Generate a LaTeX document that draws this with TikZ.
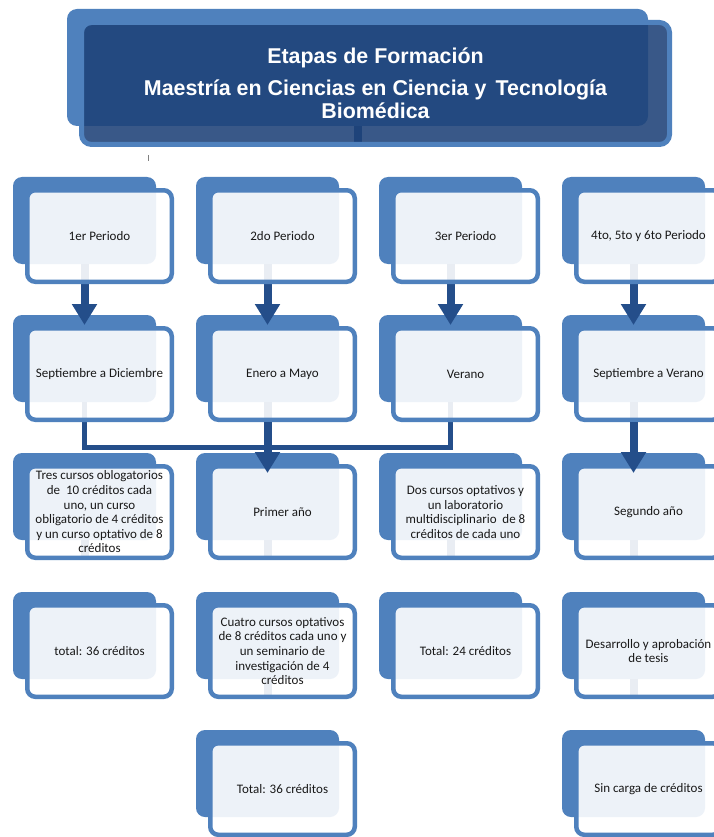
\documentclass[tikz,border=0pt]{standalone}
\usepackage{fontspec}
\setmainfont{Carlito}
\newfontfamily\titlefont{Liberation Sans}
\usetikzlibrary{arrows.meta,calc}
\definecolor{cardblue}{RGB}{79,129,189}
\definecolor{arrowblue}{RGB}{36,78,138}
\definecolor{navy}{RGB}{30,66,120}
\definecolor{txt}{RGB}{25,25,25}
\pgfdeclarelayer{bgl}
\pgfdeclarelayer{backl}
\pgfdeclarelayer{midl}
\pgfsetlayers{bgl,backl,midl,main}
\tikzset{
  backcard/.style={rectangle, rounded corners=9pt, fill=cardblue, minimum width=143pt, minimum height=87pt, inner sep=0pt, outer sep=0pt},
  frontcard/.style={rectangle, rounded corners=8pt, draw=cardblue, line width=4.5pt, fill=white, fill opacity=0.9, text opacity=1, minimum width=144.5pt, minimum height=91.5pt, inner sep=0pt, outer sep=0pt, align=center, font=\fontsize{13}{14.6}\selectfont, text=txt},
  titleback/.style={rectangle, rounded corners=10pt, fill=cardblue, minimum width=581pt, minimum height=117pt, inner sep=0pt, outer sep=0pt},
  titlefront/.style={rectangle, rounded corners=10pt, draw=cardblue, line width=5pt, fill=navy, fill opacity=0.88, text opacity=1, minimum width=588pt, minimum height=122pt, inner sep=0pt, outer sep=0pt, align=center, text=white, font=\titlefont\fontsize{21.4}{23.5}\selectfont\bfseries},
  arrowline/.style={draw=arrowblue, line width=8pt, -{Triangle[width=24pt,length=21pt]}},
  barline/.style={draw=arrowblue, line width=5pt},
  ghost/.style={fill=arrowblue},
}
\newcommand{\mkcard}[4]{%
  \begin{pgfonlayer}{backl}
    \node[backcard] (b#1) at (#2+71.5, #3+43.5) {};
  \end{pgfonlayer}
  \node[frontcard] (f#1) at (#2+86.5, #3+59) {#4};
}
\begin{document}
\begin{tikzpicture}[x=1pt,y=-1pt]
\useasboundingbox (0,0) rectangle (713,837);
\begin{pgfonlayer}{bgl}
  \fill[white] (0,0) rectangle (713,837);
\end{pgfonlayer}

% title
\begin{pgfonlayer}{backl}
  \node[titleback] (tb) at (357.5,67.5) {};
\end{pgfonlayer}
\node[titlefront] (tf) at (375.5,83.5) {Etapas de Formación\\[8pt]Maestría en Ciencias en Ciencia y\hspace{0.15em} Tecnología\\Biomédica};
\draw[gray, line width=1pt] (148,155) -- (148,161);

% cards
\mkcard{11}{13}{177}{1er Periodo}
\mkcard{12}{196}{177}{2do Periodo}
\mkcard{13}{379}{177}{3er Periodo}
\mkcard{14}{562}{177}{4to, 5to y 6to Periodo}
\mkcard{21}{13}{315}{Septiembre a Diciembre}
\mkcard{22}{196}{315}{Enero a Mayo}
\mkcard{23}{379}{315}{Verano}
\mkcard{24}{562}{315}{Septiembre a Verano}
\mkcard{31}{13}{453}{Tres cursos oblogatorios\\de \ 10 créditos cada\\uno, un curso\\obligatorio de 4 créditos\\y un curso optativo de 8\\créditos}
\mkcard{32}{196}{453}{Primer año}
\mkcard{33}{379}{453}{Dos cursos optativos y\\un laboratorio\\multidisciplinario \ de 8\\créditos de cada uno}
\mkcard{34}{562}{453}{Segundo año}
\mkcard{41}{13}{592}{total: 36 créditos}
\mkcard{42}{196}{592}{Cuatro cursos optativos\\de 8 créditos cada uno y\\un seminario de\\investigación de 4\\créditos}
\mkcard{43}{379}{592}{Total: 24 créditos}
\mkcard{44}{562}{592}{Desarrollo y aprobación\\de tesis}
\mkcard{52}{196}{730}{Total: 36 créditos}
\mkcard{54}{562}{730}{Sin carga de créditos}

% connectors
\begin{pgfonlayer}{midl}
  \fill[ghost] ([xshift=-4pt]tb.south) rectangle ([xshift=4pt,yshift=-16pt]tb.south);
  \foreach \c in {1,2,3,4}{
    \draw[arrowline] (b1\c.south) -- ([yshift=-10pt]b2\c.north);
  }
  \coordinate (jn) at (267.5,447);
  \draw[barline] (b21.south) |- (jn) -| (b23.south);
  \foreach \n in {22,24,31,32,33,34,42,44}{
    \fill[ghost] ([xshift=-4pt]b\n.south) rectangle ([xshift=4pt,yshift=-20pt]b\n.south);
  }
\end{pgfonlayer}
\draw[arrowline] ([yshift=-2.25pt]f22.south -| b22.south) -- ([yshift=-20pt]b32.north);
\draw[arrowline] ([yshift=-2.25pt]f24.south -| b24.south) -- ([yshift=-20pt]b34.north);
\end{tikzpicture}
\end{document}
